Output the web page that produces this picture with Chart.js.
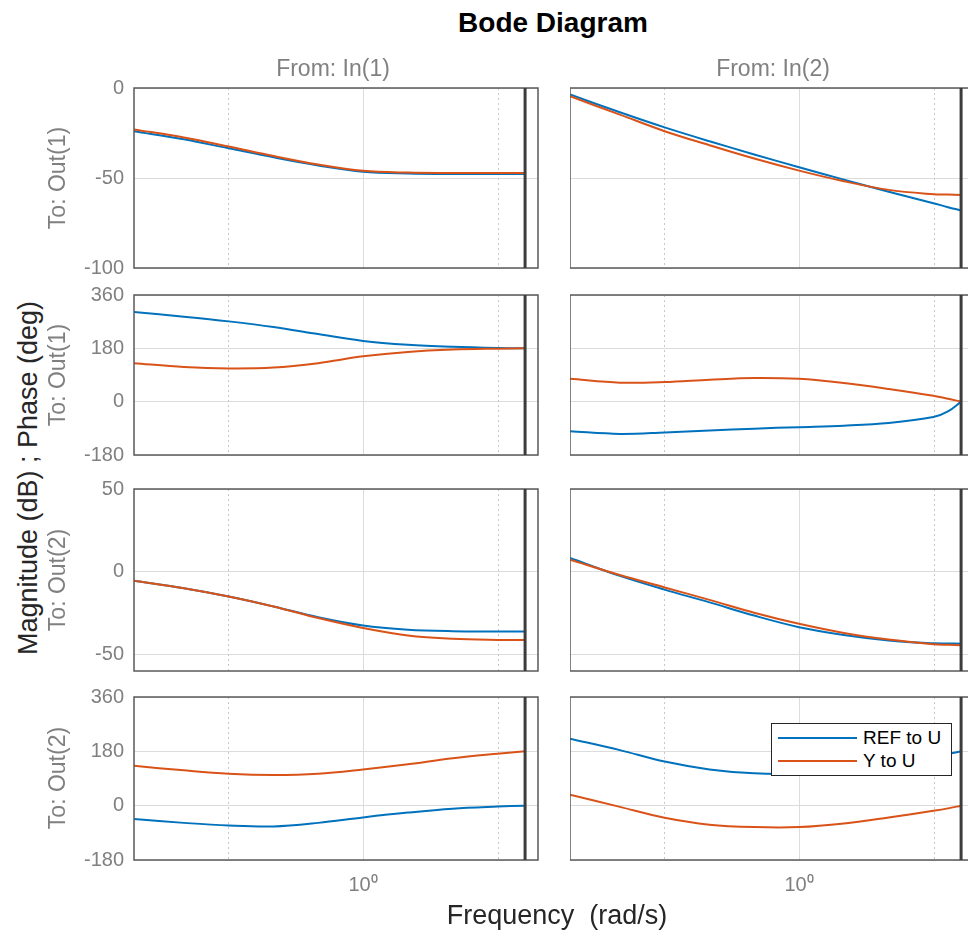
<!DOCTYPE html>
<html>
<head>
<meta charset="utf-8">
<title>Bode Diagram</title>
<script src="https://cdn.jsdelivr.net/npm/chart.js@4.4.0/dist/chart.umd.min.js"></script>
<style>
  html, body { margin: 0; padding: 0; background: #fff; overflow: hidden; }
  body { width: 968px; height: 936px; position: relative; font-family: "Liberation Sans", Arial, sans-serif; }
  .panel { position: absolute; }
  .lbl { position: absolute; white-space: nowrap; transform: translate(-50%, -50%); line-height: 1; z-index: 5; }
  .rot { transform: translate(-50%, -50%) rotate(-90deg); }
  .gray { color: #808080; font-size: 23px; }
  .axis { color: #262626; font-size: 27px; }
  #legend { position: absolute; left: 771px; top: 723px; width: 179px; height: 51px; border: 1.5px solid #262626; background: #fff; z-index: 6; }
  .leg-row { position: absolute; left: 0; height: 22px; width: 100%; }
  .leg-line { position: absolute; left: 6px; top: 11px; width: 79px; height: 2px; }
  .leg-text { position: absolute; left: 91px; top: 1px; font-size: 19px; color: #000; line-height: 22px; }
</style>
</head>
<body>

<div class="lbl" style="left:553px; top:23px; font-size:28px; font-weight:bold; color:#000;">Bode Diagram</div>
<div class="lbl gray" style="left:333px; top:68px;">From: In(1)</div>
<div class="lbl gray" style="left:773px; top:68px;">From: In(2)</div>
<div class="lbl axis rot" style="left:28px; top:478px;">Magnitude (dB) ; Phase (deg)</div>
<div class="lbl gray rot" style="left:57px; top:178px;">To: Out(1)</div>
<div class="lbl gray rot" style="left:57px; top:375px;">To: Out(1)</div>
<div class="lbl gray rot" style="left:57px; top:580px;">To: Out(2)</div>
<div class="lbl gray rot" style="left:57px; top:778px;">To: Out(2)</div>
<div class="lbl axis" style="left:557px; top:915px;">Frequency&nbsp;&nbsp;(rad/s)</div>

<div id="legend"></div>

<script>
// Frequencies (rad/s) where the curves were read
const freqIn1 = [0.308, 0.398, 0.501, 0.631, 0.794, 1.0, 1.259, 1.585, 1.995, 2.30];
const freqIn2 = [0.308, 0.398, 0.501, 0.631, 0.794, 1.0, 1.259, 1.585, 1.995, 2.15, 2.30];
const freqMin = 0.308;
const freqMax = 2.458;
const nyquistFreq = 2.30;

// Tick values
const xTickValues = [1];
const xMinorGrid = [0.5, 2];
const magTicksOut1 = [-100, -50, 0];
const magTicksOut2 = [-50, 0, 50];
const phaseTicks = [-180, 0, 180, 360];

// Series
const seriesNames = ['REF to U', 'Y to U'];
const seriesColors = ['#0072BD', '#D95319'];

// To: Out(1), magnitude (dB)
const refMag11 = [-24, -28.5, -33.5, -38.5, -43, -46.5, -47.5, -47.8, -47.8, -47.8];
const yMag11 = [-23, -27.5, -32.5, -37.8, -42.5, -46, -47, -47.2, -47.2, -47.2];
const refMag12 = [-3.6, -13.5, -21.9, -29.6, -36.9, -44.0, -50.9, -57.6, -64.0, -66.2, -68.0];
const yMag12 = [-4.6, -14.8, -24.0, -31.8, -39.2, -45.9, -51.8, -56.6, -59.0, -59.2, -59.4];

// To: Out(1), phase (deg)
const refPh11 = [303, 287, 271, 252, 228, 205, 192, 185, 181, 180];
const yPh11 = [130, 117, 112, 115, 130, 153, 168, 176, 179, 180];
const refPh12 = [-100, -109, -104, -97, -91, -86, -81, -72, -52, -33, 0];
const yPh12 = [77, 64, 66, 74, 80, 77, 63, 43, 20, 10, 0];

// To: Out(2), magnitude (dB)
const refMag21 = [-5.5, -10, -15, -21, -27.5, -32.5, -35, -35.9, -36.1, -36.2];
const yMag21 = [-5.5, -10, -15, -21, -28, -34, -38.5, -40.5, -41.2, -41.3];
const refMag22 = [8.3, -2.5, -10.8, -18.5, -26.5, -33.5, -38.2, -41.5, -43.3, -43.4, -43.5];
const yMag22 = [7.3, -2, -9.5, -17, -24.8, -31.5, -37, -41, -43.8, -44.2, -44.5];

// To: Out(2), phase (deg)
const refPh21 = [-44, -57, -66, -69, -57, -39, -23, -10, -3, 0];
const yPh21 = [132, 117, 106, 102, 106, 120, 137, 157, 172, 180];
const refPh22 = [222, 184, 146, 120, 107, 106, 115, 135, 162, 171, 180];
const yPh22 = [36, -4, -40, -63, -71, -71, -59, -39, -17, -9, 0];

// Page layout of the 4x2 grid of axes
const colLeft = [134, 570];
const plotWidth = 404;
const rowTop = [88, 295, 489, 697];
const rowHeight = [180, 160, 182, 163];
const fontFamily = '"Liberation Sans", Arial, sans-serif';

const panels = [
    { col: 0, row: 0, freq: freqIn1, ref: refMag11, y: yMag11, min: -100, max: 0, ticks: magTicksOut1 },
    { col: 1, row: 0, freq: freqIn2, ref: refMag12, y: yMag12, min: -100, max: 0, ticks: magTicksOut1 },
    { col: 0, row: 1, freq: freqIn1, ref: refPh11, y: yPh11, min: -180, max: 360, ticks: phaseTicks },
    { col: 1, row: 1, freq: freqIn2, ref: refPh12, y: yPh12, min: -180, max: 360, ticks: phaseTicks },
    { col: 0, row: 2, freq: freqIn1, ref: refMag21, y: yMag21, min: -60, max: 50, ticks: magTicksOut2 },
    { col: 1, row: 2, freq: freqIn2, ref: refMag22, y: yMag22, min: -60, max: 50, ticks: magTicksOut2 },
    { col: 0, row: 3, freq: freqIn1, ref: refPh21, y: yPh21, min: -180, max: 360, ticks: phaseTicks },
    { col: 1, row: 3, freq: freqIn2, ref: refPh22, y: yPh22, min: -180, max: 360, ticks: phaseTicks }
];

// Box around each axes, dotted minor grid and the Nyquist line
const bodeFramePlugin = {
    id: 'bodeFrame',
    beforeDatasetsDraw(chart) {
        const { ctx, chartArea: a, scales: { x } } = chart;
        ctx.save();
        ctx.strokeStyle = '#c8c8c8';
        ctx.lineWidth = 1;
        ctx.setLineDash([2, 3]);
        xMinorGrid.forEach(v => {
            const px = Math.round(x.getPixelForValue(v)) + 0.5;
            ctx.beginPath();
            ctx.moveTo(px, a.top);
            ctx.lineTo(px, a.bottom);
            ctx.stroke();
        });
        ctx.restore();
    },
    afterDatasetsDraw(chart) {
        const { ctx, chartArea: a, scales: { x } } = chart;
        ctx.save();
        ctx.strokeStyle = '#5a5a5a';
        ctx.lineWidth = 1.5;
        ctx.strokeRect(a.left, a.top, a.right - a.left, a.bottom - a.top);
        const nx = x.getPixelForValue(nyquistFreq);
        ctx.strokeStyle = '#3c3c3c';
        ctx.lineWidth = 3;
        ctx.beginPath();
        ctx.moveTo(nx, a.top);
        ctx.lineTo(nx, a.bottom);
        ctx.stroke();
        ctx.restore();
    }
};

function toPoints(freq, values) {
    return freq.map((f, i) => ({ x: f, y: values[i] }));
}

// Keep the axis size fixed and drop the extra label padding
function fixSize(s, key, size) {
    s[key] = size;
    s.paddingTop = 0;
    s.paddingBottom = 0;
    s.paddingLeft = 0;
    s.paddingRight = 0;
}

function makePanel(p) {
    const isLeft = p.col === 0;
    const isBottom = p.row === 3;
    const yW = isLeft ? 70 : 0;
    const xH = isBottom ? 40 : 0;
    const padTop = 14;
    const padBottom = isBottom ? 0 : 14;
    const padRight = 6;
    const w = yW + plotWidth + padRight;
    const h = padTop + rowHeight[p.row] + xH + padBottom;

    const wrap = document.createElement('div');
    wrap.className = 'panel';
    wrap.style.left = (colLeft[p.col] - yW) + 'px';
    wrap.style.top = (rowTop[p.row] - padTop) + 'px';
    const canvas = document.createElement('canvas');
    canvas.width = w;
    canvas.height = h;
    canvas.style.width = w + 'px';
    canvas.style.height = h + 'px';
    wrap.appendChild(canvas);
    document.body.appendChild(wrap);

    new Chart(canvas.getContext('2d'), {
        type: 'line',
        data: {
            datasets: [{
                label: seriesNames[0],
                data: toPoints(p.freq, p.ref),
                borderColor: seriesColors[0],
                borderWidth: 2,
                pointRadius: 0,
                tension: 0.35,
                fill: false,
                order: 1
            }, {
                label: seriesNames[1],
                data: toPoints(p.freq, p.y),
                borderColor: seriesColors[1],
                borderWidth: 2,
                pointRadius: 0,
                tension: 0.35,
                fill: false,
                order: 0
            }]
        },
        options: {
            responsive: false,
            animation: false,
            devicePixelRatio: 1,
            events: [],
            layout: { padding: { top: padTop, bottom: padBottom, left: 0, right: padRight } },
            plugins: { legend: { display: false }, tooltip: { enabled: false } },
            scales: {
                x: {
                    type: 'logarithmic',
                    min: freqMin,
                    max: freqMax,
                    bounds: 'data',
                    afterBuildTicks: s => { s.ticks = xTickValues.map(v => ({ value: v })); },
                    afterFit: s => fixSize(s, 'height', xH),
                    ticks: {
                        display: isBottom,
                        autoSkip: false,
                        maxRotation: 0,
                        padding: 13,
                        color: '#808080',
                        font: { family: fontFamily, size: 20 },
                        callback: v => (v === 1 ? '10\u2070' : '')
                    },
                    grid: { color: '#dcdcdc', lineWidth: 1, drawTicks: false },
                    border: { display: false }
                },
                y: {
                    type: 'linear',
                    min: p.min,
                    max: p.max,
                    bounds: 'data',
                    afterBuildTicks: s => { s.ticks = p.ticks.map(v => ({ value: v })); },
                    afterFit: s => fixSize(s, 'width', yW),
                    ticks: {
                        display: isLeft,
                        padding: 10,
                        color: '#808080',
                        font: { family: fontFamily, size: 20 }
                    },
                    grid: { color: '#dcdcdc', lineWidth: 1, drawTicks: false },
                    border: { display: false }
                }
            }
        },
        plugins: [bodeFramePlugin]
    });
}

// Legend box in the lower right axes
function buildLegend() {
    const legend = document.getElementById('legend');
    seriesNames.forEach((name, i) => {
        const row = document.createElement('div');
        row.className = 'leg-row';
        row.style.top = (2 + i * 23) + 'px';
        const line = document.createElement('div');
        line.className = 'leg-line';
        line.style.background = seriesColors[i];
        const text = document.createElement('div');
        text.className = 'leg-text';
        text.textContent = name;
        row.appendChild(line);
        row.appendChild(text);
        legend.appendChild(row);
    });
}

panels.forEach(makePanel);
buildLegend();
</script>
</body>
</html>
